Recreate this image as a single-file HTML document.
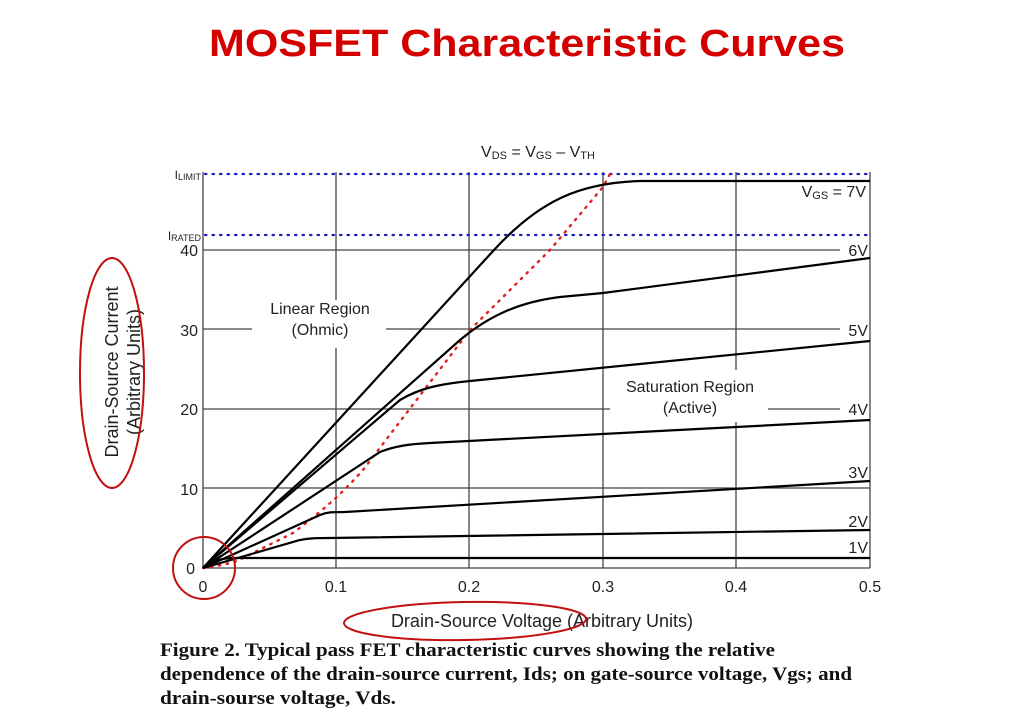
<!DOCTYPE html>
<html><head><meta charset="utf-8"><style>
html,body{margin:0;padding:0;background:#fff;width:1012px;height:728px;overflow:hidden}
svg{display:block;font-family:"Liberation Sans",Arial,sans-serif}
</style></head><body>
<svg width="1012" height="728" viewBox="0 0 1012 728" xmlns="http://www.w3.org/2000/svg">
<text x="527" y="56" text-anchor="middle" font-size="38" font-weight="bold" fill="#d40000" textLength="636" lengthAdjust="spacingAndGlyphs">MOSFET Characteristic Curves</text>

<g stroke="#444" stroke-width="1.3" fill="none">
<line x1="203" y1="172" x2="203" y2="568"/>
<line x1="203" y1="568" x2="870" y2="568"/>
<line x1="870" y1="172" x2="870" y2="568"/>
<line x1="336" y1="172" x2="336" y2="300"/><line x1="336" y1="348" x2="336" y2="568"/>
<line x1="469" y1="172" x2="469" y2="568"/>
<line x1="603" y1="172" x2="603" y2="568"/>
<line x1="736" y1="172" x2="736" y2="370"/><line x1="736" y1="422" x2="736" y2="568"/>
<line x1="203" y1="250" x2="840" y2="250"/>
<line x1="203" y1="329" x2="252" y2="329"/><line x1="386" y1="329" x2="840" y2="329"/>
<line x1="203" y1="409" x2="610" y2="409"/><line x1="768" y1="409" x2="840" y2="409"/>
<line x1="203" y1="488" x2="870" y2="488"/>
</g>
<g stroke="#2020c0" stroke-width="2.2" stroke-dasharray="1.5 6" stroke-linecap="round">
<line x1="205" y1="174" x2="870" y2="174"/>
<line x1="205" y1="235" x2="870" y2="235"/>
</g>
<path d="M203,568 C220,566 230,563 237,561 L293,533 C330,505 345,490 363,470 L470,330 L550,250 L603,187 L610,174" stroke="#e02020" stroke-width="2.4" stroke-dasharray="1.5 6.5" stroke-linecap="round" fill="none"/>
<g stroke="#000" stroke-width="2.2" fill="none">
<path d="M203,568 L494,250 C540,200 580,183 640,181 L870,181"/>
<path d="M203,568 L460,340 C490,315 520,302 560,297 L603,293 L870,258"/>
<path d="M203,568 L400,400 C420,388 440,384 470,381 L870,341"/>
<path d="M203,568 L380,452 C395,446 410,444 430,443 L870,420"/>
<path d="M203,568 L320,515 C327,512 332,512 345,512 L870,481"/>
<path d="M203,568 L300,540 C310,538 318,538 330,538 L870,530"/>
<path d="M203,568 C215,560 222,558 235,558 L870,558"/>
</g>
<g font-size="16" fill="#222">
<text x="198" y="256" text-anchor="end">40</text>
<text x="198" y="336" text-anchor="end">30</text>
<text x="198" y="415" text-anchor="end">20</text>
<text x="198" y="495" text-anchor="end">10</text>
<text x="195" y="574" text-anchor="end">0</text>
<text x="203" y="592" text-anchor="middle">0</text>
<text x="336" y="592" text-anchor="middle">0.1</text>
<text x="469" y="592" text-anchor="middle">0.2</text>
<text x="603" y="592" text-anchor="middle">0.3</text>
<text x="736" y="592" text-anchor="middle">0.4</text>
<text x="870" y="592" text-anchor="middle">0.5</text>
<text x="868" y="256" text-anchor="end">6V</text>
<text x="868" y="336" text-anchor="end">5V</text>
<text x="868" y="415" text-anchor="end">4V</text>
<text x="868" y="478" text-anchor="end">3V</text>
<text x="868" y="527" text-anchor="end">2V</text>
<text x="868" y="553" text-anchor="end">1V</text>
<text x="866" y="197" text-anchor="end">V<tspan font-size="11" dy="2">GS</tspan><tspan dy="-2"> = 7V</tspan></text>
<text x="320" y="314" text-anchor="middle">Linear Region</text>
<text x="320" y="335" text-anchor="middle">(Ohmic)</text>
<text x="690" y="392" text-anchor="middle">Saturation Region</text>
<text x="690" y="413" text-anchor="middle">(Active)</text>
<text x="538" y="157" text-anchor="middle">V<tspan font-size="11" dy="2">DS</tspan><tspan dy="-2"> = V</tspan><tspan font-size="11" dy="2">GS</tspan><tspan dy="-2"> – V</tspan><tspan font-size="11" dy="2">TH</tspan></text>
<text x="201" y="179" text-anchor="end" font-size="12">I<tspan font-size="9" dy="1">LIMIT</tspan></text>
<text x="201" y="240" text-anchor="end" font-size="12">I<tspan font-size="9" dy="1">RATED</tspan></text>
</g>
<g font-size="18" fill="#222">
<text transform="translate(118,372) rotate(-90)" text-anchor="middle">Drain-Source Current</text>
<text transform="translate(140,372) rotate(-90)" text-anchor="middle">(Arbitrary Units)</text>
<text x="542" y="627" text-anchor="middle">Drain-Source Voltage (Arbitrary Units)</text>
</g>
<g stroke="#c01010" stroke-width="2" fill="none">
<ellipse cx="112" cy="373" rx="32" ry="115"/>
<circle cx="204" cy="568" r="31"/>
<ellipse cx="465" cy="621" rx="121" ry="19" transform="rotate(-1 465 621)"/>
</g>
<g font-family="Liberation Serif,serif" font-weight="bold" font-size="19" fill="#111">
<text x="160" y="656" textLength="615" lengthAdjust="spacingAndGlyphs">Figure 2. Typical pass FET characteristic curves showing the relative</text>
<text x="160" y="680" textLength="692" lengthAdjust="spacingAndGlyphs">dependence of the drain-source current, Ids; on gate-source voltage, Vgs; and</text>
<text x="160" y="704" textLength="236" lengthAdjust="spacingAndGlyphs">drain-sourse voltage, Vds.</text>
</g>
</svg>
</body></html>
